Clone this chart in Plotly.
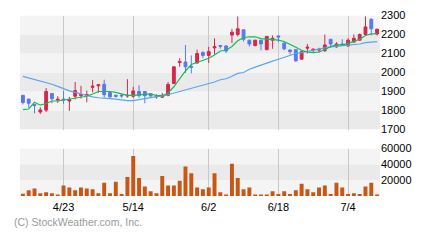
import plotly.graph_objects as go

# ---- data ----
opens  = [1880,1860,1832,1792,1802,1890,1855,1860,1850,1875,1878,1880,1922,1930,1938,1895,1880,1881,1876,1875,
          1900,1900,1888,1872,1870,1880,1942,2052,2055,2032,2050,2105,2090,2130,2142,2140,2197,2200,2225,2170,
          2142,2170,2120,2170,2192,2155,2118,2120,2070,2128,2118,2118,2115,2175,2135,2150,2140,2160,2170,2200,
          2280,2203]
highs  = [1882,1861,1834,1817,1918,1892,1875,1903,1872,1950,1930,1905,1960,1938,1962,1897,1884,1885,1965,1925,
          1933,1901,1890,1885,1892,1950,2030,2075,2145,2090,2120,2112,2135,2180,2145,2142,2230,2295,2226,2172,
          2172,2172,2192,2195,2195,2156,2122,2122,2112,2150,2127,2130,2200,2176,2160,2175,2180,2200,2205,2295,
          2285,2230]
lows   = [1832,1815,1785,1782,1792,1838,1840,1835,1798,1858,1863,1843,1895,1893,1868,1866,1868,1867,1868,1867,
          1867,1838,1874,1862,1866,1875,1940,2030,1998,1995,2047,2075,2050,2095,2125,2103,2155,2190,2163,2137,
          2137,2117,2118,2125,2160,2117,2095,2055,2067,2100,2107,2105,2108,2130,2130,2140,2135,2157,2167,2195,
          2195,2195]
closes = [1842,1838,1826,1803,1900,1862,1859,1855,1857,1905,1884,1884,1928,1936,1883,1872,1875,1877,1880,1903,
          1878,1878,1876,1878,1880,1937,2030,2058,2030,2028,2100,2090,2110,2136,2138,2113,2212,2230,2175,2150,
          2170,2150,2190,2180,2187,2125,2110,2062,2110,2133,2122,2122,2145,2150,2150,2145,2170,2180,2200,2240,
          2230,2228]
volumes = [2800,7200,9600,3600,4800,3600,1600,13200,10800,7200,10800,9600,8400,3600,16800,3600,18000,2400,24000,50400,
           22800,12000,6000,3600,25200,13200,13200,19200,37200,28800,10800,8400,10800,28800,4800,1200,40800,22800,8400,10800,
           1200,1200,1200,6000,2400,6000,2400,7200,15600,8400,4800,10800,13200,2400,16800,10800,2400,3600,2400,12000,
           16800,1200]
ma_short = [1805,1808,1843,1828,1837,1850,1850,1855,1862,1867,1872,1875,1887,1900,1900,1900,1895,1887,1880,1880,
            1883,1886,1888,1878,1878,1892,1925,1967,2008,2042,2053,2063,2075,2092,2113,2117,2137,2167,2183,2188,
            2188,2178,2175,2175,2170,2163,2150,2133,2117,2108,2105,2108,2120,2137,2145,2145,2153,2162,2175,2195,
            2203,2203]
ma_long = [1980,1972,1963,1957,1948,1938,1927,1913,1903,1895,1887,1878,1872,1867,1863,1862,1860,1855,1852,1852,
           1857,1863,1870,1873,1875,1883,1892,1900,1908,1917,1925,1933,1938,1950,1962,1967,1980,1995,2000,2017,
           2028,2040,2048,2060,2070,2080,2090,2100,2105,2112,2117,2122,2130,2135,2138,2140,2142,2147,2150,2157,
           2160,2163]
date_tick_idx = [7, 19, 32, 44, 56]
date_tick_text = ["4/23", "5/14", "6/2", "6/18", "7/4"]
price_ticks = [1700, 1800, 1900, 2000, 2100, 2200, 2300]
volume_ticks = [20000, 40000, 60000]

x = list(range(len(opens)))

UP = "#d7264c"
DOWN = "#5b78ee"
FONT = "Liberation Sans, Arial, sans-serif"

fig = go.Figure()
fig.add_trace(go.Candlestick(
    x=x, open=opens, high=highs, low=lows, close=closes,
    increasing=dict(line=dict(color=UP, width=1), fillcolor=UP),
    decreasing=dict(line=dict(color=DOWN, width=1), fillcolor=DOWN),
    whiskerwidth=0, xaxis="x", yaxis="y", showlegend=False, hoverinfo="skip"))
fig.add_trace(go.Scatter(x=x, y=ma_long, mode="lines", line=dict(color="#5aa5f2", width=1.2),
                         xaxis="x", yaxis="y", showlegend=False, hoverinfo="skip"))
fig.add_trace(go.Scatter(x=x, y=ma_short, mode="lines", line=dict(color="#0cc053", width=1.2),
                         xaxis="x", yaxis="y", showlegend=False, hoverinfo="skip"))
fig.add_trace(go.Bar(x=x, y=volumes, marker=dict(color="#c85714", line=dict(width=0)),
                     xaxis="x2", yaxis="y2", showlegend=False, hoverinfo="skip"))

W, H = 440, 240
xdom = [20 / W, 380 / W]
ydom_price = [1 - 130 / H, 1 - 10 / H]
ydom_vol = [1 - 200 / H, 1 - 150 / H]

LIGHT = "#f4f4f4"
DARK = "#eaeaea"
shapes = []
# price bands (alternating per 100)
for i in range(len(price_ticks) - 1):
    shapes.append(dict(type="rect", xref="x domain", yref="y", x0=0, x1=1,
                       y0=price_ticks[i], y1=price_ticks[i + 1],
                       fillcolor=DARK if i % 2 == 0 else LIGHT, line=dict(width=0), layer="below"))
vol_edges = [0] + volume_ticks
for i in range(len(vol_edges) - 1):
    shapes.append(dict(type="rect", xref="x2 domain", yref="y2", x0=0, x1=1,
                       y0=vol_edges[i], y1=vol_edges[i + 1],
                       fillcolor=DARK if i % 2 == 1 else LIGHT, line=dict(width=0), layer="below"))

grid = dict(showgrid=True, gridcolor="#c8c8c8", gridwidth=1, zeroline=False, showline=False, ticks="")

fig.update_layout(
    width=W, height=H, margin=dict(l=0, r=0, t=0, b=0),
    paper_bgcolor="white", plot_bgcolor="white",
    font=dict(family=FONT, size=11, color="black"),
    bargap=0.32, boxgap=0.3,
    shapes=shapes,
    xaxis=dict(domain=xdom, anchor="y", range=[-0.5, len(x) - 0.5], tickvals=date_tick_idx,
               showticklabels=False, rangeslider=dict(visible=False), fixedrange=True, **grid),
    yaxis=dict(domain=ydom_price, anchor="x", side="right", range=[1700, 2300], tickvals=price_ticks,
               showgrid=False, zeroline=False, showline=False, ticks="", fixedrange=True,
               tickfont=dict(size=11)),
    xaxis2=dict(domain=xdom, anchor="y2", matches="x", tickvals=date_tick_idx, ticktext=date_tick_text,
                tickfont=dict(size=11), ticklabelstandoff=3, fixedrange=True, **grid),
    yaxis2=dict(domain=ydom_vol, anchor="x2", side="right", range=[0, 60000], tickvals=volume_ticks,
                tickformat="d", showgrid=False, zeroline=False, showline=False, ticks="", fixedrange=True,
                tickfont=dict(size=11)),
    annotations=[dict(text="(C) StockWeather.com, Inc.", xref="paper", yref="paper",
                      x=12 / W, y=1 - 227 / H, xanchor="left", yanchor="middle", showarrow=False,
                      font=dict(size=10.5, color="#9a9a9a", family=FONT))],
)

fig.write_html("out.html")
